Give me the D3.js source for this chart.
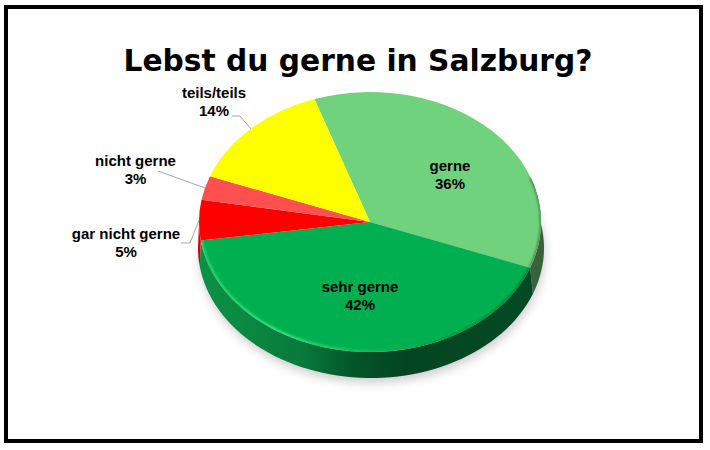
<!DOCTYPE html>
<html><head><meta charset="utf-8">
<script src="https://cdn.jsdelivr.net/npm/d3@7"></script>
<style>html,body{margin:0;padding:0;background:#fff}svg{display:block}</style>
</head><body><svg id="c" width="710" height="450"></svg>
<script>
const categories=["gerne","sehr gerne","gar nicht gerne","nicht gerne","teils/teils"];
const values=[36,42,5,3,14];
const colors=["#70d27c","#00b050","#ff0000","#ff5050","#ffff00"];
const titleText="Lebst du gerne in Salzburg?";

const W=710,H=450,cx=370,cy=222,rx=171,ry=130,depth=26;
const rad=d=>d*Math.PI/180;
const start=rad(-19);
const svg=d3.select("#c");
const defs=svg.append("defs");
const blur=(id,s)=>defs.append("filter").attr("id",id).attr("x","-20%").attr("y","-20%").attr("width","140%").attr("height","140%")
  .append("feGaussianBlur").attr("stdDeviation",s);
blur("sh",5);blur("b1",1.2);
const grad=(id,stops)=>{const g=defs.append("linearGradient").attr("id",id).attr("gradientUnits","userSpaceOnUse")
  .attr("x1",cx-rx).attr("x2",cx+rx).attr("y1",0).attr("y2",0);
  stops.forEach(([o,c])=>g.append("stop").attr("offset",o).attr("stop-color",c));};
grad("wallG",[[0,"#0c9046"],[.12,"#0b8a42"],[.3,"#087a3a"],[.45,"#04552a"],[.6,"#034522"],[1,"#034a24"]]);
grad("rimG",[[0,"#2fd070"],[.25,"#38e484"],[.45,"#18c060"],[.7,"#02a048"],[1,"#008038"]]);

const pie=d3.pie().sort(null).value(d=>d).startAngle(start).endAngle(start+2*Math.PI);
const arcs=pie(values);
const arc=d3.arc().innerRadius(0).outerRadius(rx);
const px=a=>cx+rx*Math.sin(a), py=a=>cy-ry*Math.cos(a);
const bx=a=>cx+1+(rx+2)*Math.sin(a), by=a=>cy+depth-ry*Math.cos(a);
const rimLine=d3.line().x(a=>px(a)).y(a=>py(a));
const sweep=(a0,a1)=>d3.range(0,61).map(i=>a0+(a1-a0)*i/60);

// frame
svg.append("rect").attr("x",6).attr("y",7).attr("width",695).attr("height",434)
  .attr("fill","#fff").attr("stroke","#000").attr("stroke-width",4);

// shadow
svg.append("path").attr("d",d3.line().x(a=>bx(a)+1).y(a=>by(a)+5)(sweep(rad(70),rad(270)))+"Z")
  .attr("fill","#a8a8a8").attr("opacity",.55).attr("filter","url(#sh)");

// side wall, visible on the front half (and a sliver higher on the right)
const wall=(a0,a1)=>{const p=sweep(a0,a1);
  const bottom=d3.line().x(bx).y(by)(p.slice().reverse());
  return rimLine(p)+"L"+bottom.slice(1)+"Z";};
const wallFill=["#3b633b","url(#wallG)","#d80000"];
arcs.forEach((d,i)=>{
  const a0=Math.max(d.startAngle,rad(70)),a1=Math.min(d.endAngle,rad(270));
  if(a1<=a0)return;
  svg.append("path").attr("d",wall(a0,a1)).attr("fill",wallFill[i]||"#800");
});

// top face
const faceT=`translate(${cx},${cy}) scale(1,${ry/rx})`;
svg.append("g").attr("transform",faceT).selectAll("path").data(arcs).join("path")
  .attr("d",arc).attr("fill",(d,i)=>colors[i]);

// soft bevels along the front edges of the slices
const big=arcs[1], gern=arcs[0];
defs.append("clipPath").attr("id","bigClip").append("path").attr("transform",faceT).attr("d",arc(big));
svg.append("g").attr("clip-path","url(#bigClip)").append("path")
  .attr("d",rimLine(sweep(big.startAngle,big.endAngle))).attr("fill","none")
  .attr("stroke","url(#rimG)").attr("stroke-width",4).attr("filter","url(#b1)");
defs.append("clipPath").attr("id","gerClip").append("path").attr("transform",faceT).attr("d",arc(gern));
svg.append("g").attr("clip-path","url(#gerClip)").append("path")
  .attr("d",rimLine(sweep(rad(70),gern.endAngle))).attr("fill","none")
  .attr("stroke","#4f8a52").attr("stroke-width",3).attr("filter","url(#b1)");

// title
svg.append("text").attr("x",358).attr("y",71).attr("text-anchor","middle")
  .attr("font-family","'DejaVu Sans',Verdana,sans-serif").attr("font-weight","bold")
  .attr("font-size",29.7).attr("fill","#000").text(titleText);

// labels
const labelLayout=[
  {x:450,y:171},{x:360,y:292},
  {x:126,y:239,leader:[[181,243],[190,243]]},
  {x:135.5,y:166,leader:[[158,171]]},
  {x:214,y:98,leader:[[232,116],[240,116]]}];
arcs.forEach((d,i)=>{
  const L=labelLayout[i];
  if(L.leader){
    const mid=(d.startAngle+d.endAngle)/2;
    const pts=[...L.leader,[px(mid),py(mid)]];
    svg.append("path").attr("d",d3.line()(pts)).attr("fill","none").attr("stroke","#a6a6a6").attr("stroke-width",1);
  }
  const t=svg.append("text").attr("text-anchor","middle")
    .attr("font-family","'Liberation Sans',Arial,sans-serif").attr("font-weight","bold")
    .attr("font-size",15).attr("fill","#000");
  t.append("tspan").attr("x",L.x).attr("y",L.y).text(categories[i]);
  t.append("tspan").attr("x",L.x).attr("y",L.y+18).text(values[i]+"%");
});
</script></body></html>
